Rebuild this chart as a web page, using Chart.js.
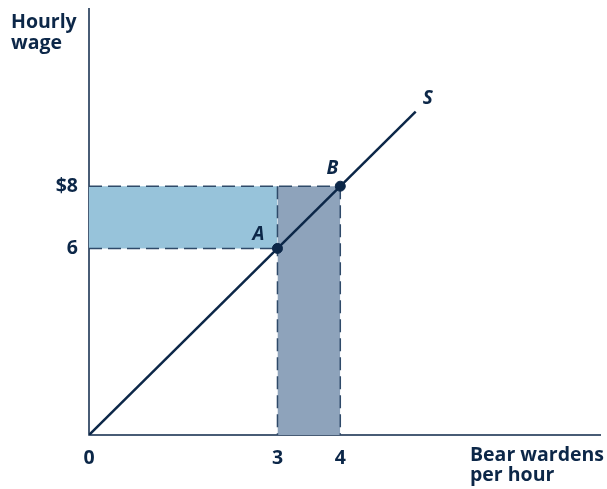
<!DOCTYPE html>
<html>
<head>
<meta charset="utf-8">
<script src="https://cdn.jsdelivr.net/npm/chart.js@4"></script>
<style>
  html, body { margin: 0; padding: 0; background: #fff; }
  #wrap { width: 607px; height: 489px; }
</style>
</head>
<body>
<div id="wrap"><canvas id="wageChart" width="607" height="489"></canvas></div>
<script>
// Bear warden labour supply: wage rises from $6 to $8
const quantityTicks = [0, 3, 4];
const quantityLabels = ['0', '3', '4'];
const wageTicks = [6, 8];
const wageLabels = ['6', '$8'];

const supplyCurve = [{ x: 0, y: 0 }, { x: 5.2, y: 10.4 }];
const pointA = { x: 3, y: 6 };
const pointB = { x: 4, y: 8 };

const navy = '#0c2748';
const dashColor = '#2f4a69';
const font = '"Open Sans", "DejaVu Sans", sans-serif';

// axes, tick labels, axis titles and point names
const economicsAxes = {
    id: 'economicsAxes',
    beforeDatasetsDraw(chart) {
        const { ctx, chartArea: a } = chart;
        ctx.save();
        ctx.strokeStyle = navy;
        ctx.lineWidth = 1.5;
        ctx.beginPath();
        ctx.moveTo(a.left, a.top);
        ctx.lineTo(a.left, a.bottom);
        ctx.lineTo(a.right, a.bottom);
        ctx.stroke();
        ctx.restore();
    },
    afterDraw(chart) {
        const { ctx, chartArea: a, scales: { x, y } } = chart;
        ctx.save();
        ctx.fillStyle = navy;
        ctx.font = 'bold 19.5px ' + font;

        ctx.textAlign = 'center';
        ctx.textBaseline = 'middle';
        quantityTicks.forEach((v, i) => {
            ctx.fillText(quantityLabels[i], x.getPixelForValue(v), a.bottom + 23);
        });
        ctx.textAlign = 'right';
        wageTicks.forEach((v, i) => {
            ctx.fillText(wageLabels[i], a.left - 11, y.getPixelForValue(v));
        });

        ctx.textAlign = 'left';
        ctx.textBaseline = 'alphabetic';
        ctx.fillText('Hourly', 11, 28);
        ctx.fillText('wage', 11, 49);
        ctx.fillText('Bear wardens', 470, 461);
        ctx.fillText('per hour', 470, 481);

        ctx.font = 'italic bold 19px ' + font;
        ctx.textAlign = 'center';
        ctx.textBaseline = 'middle';
        ctx.fillText('A', x.getPixelForValue(pointA.x) - 19, y.getPixelForValue(pointA.y) - 14);
        ctx.fillText('B', x.getPixelForValue(pointB.x) - 8, y.getPixelForValue(pointB.y) - 18);
        const end = supplyCurve[supplyCurve.length - 1];
        ctx.fillText('S', x.getPixelForValue(end.x) + 12, y.getPixelForValue(end.y) - 13);
        ctx.restore();
    }
};

const dashed = (data) => ({
    data: data,
    showLine: true,
    borderColor: dashColor,
    borderWidth: 1.5,
    borderDash: [13, 6],
    pointRadius: 0,
    fill: false,
    order: 3
});

new Chart(document.getElementById('wageChart'), {
    type: 'scatter',
    data: {
        datasets: [
            {
                // points A and B
                data: [pointA, pointB],
                pointRadius: 5,
                pointBackgroundColor: navy,
                pointBorderColor: navy,
                order: 0
            },
            {
                // supply curve S
                data: supplyCurve,
                showLine: true,
                borderColor: navy,
                borderWidth: 2.5,
                pointRadius: 0,
                order: 1
            },
            dashed([{ x: 0, y: pointB.y }, { x: pointB.x, y: pointB.y }]),
            dashed([{ x: 0, y: pointA.y }, { x: pointA.x, y: pointA.y }]),
            dashed([{ x: pointA.x, y: pointB.y }, { x: pointA.x, y: 0 }]),
            dashed([{ x: pointB.x, y: pointB.y }, { x: pointB.x, y: 0 }]),
            {
                // wage gain on the existing hours
                data: [{ x: 0, y: pointB.y }, { x: pointA.x, y: pointB.y }],
                showLine: true,
                borderWidth: 0,
                pointRadius: 0,
                backgroundColor: '#97c3da',
                fill: { value: pointA.y },
                order: 5
            },
            {
                // earnings on the extra hour
                data: [{ x: pointA.x, y: pointB.y }, { x: pointB.x, y: pointB.y }],
                showLine: true,
                borderWidth: 0,
                pointRadius: 0,
                backgroundColor: '#8ea3bb',
                fill: 'origin',
                order: 5
            }
        ]
    },
    options: {
        responsive: false,
        animation: false,
        layout: { padding: { left: 89, right: 2, top: 8, bottom: 54 } },
        plugins: { legend: { display: false }, tooltip: { enabled: false } },
        scales: {
            x: { type: 'linear', min: 0, max: 8.15, display: false },
            y: { type: 'linear', min: 0, max: 13.73, display: false }
        }
    },
    plugins: [economicsAxes]
});
</script>
</body>
</html>
